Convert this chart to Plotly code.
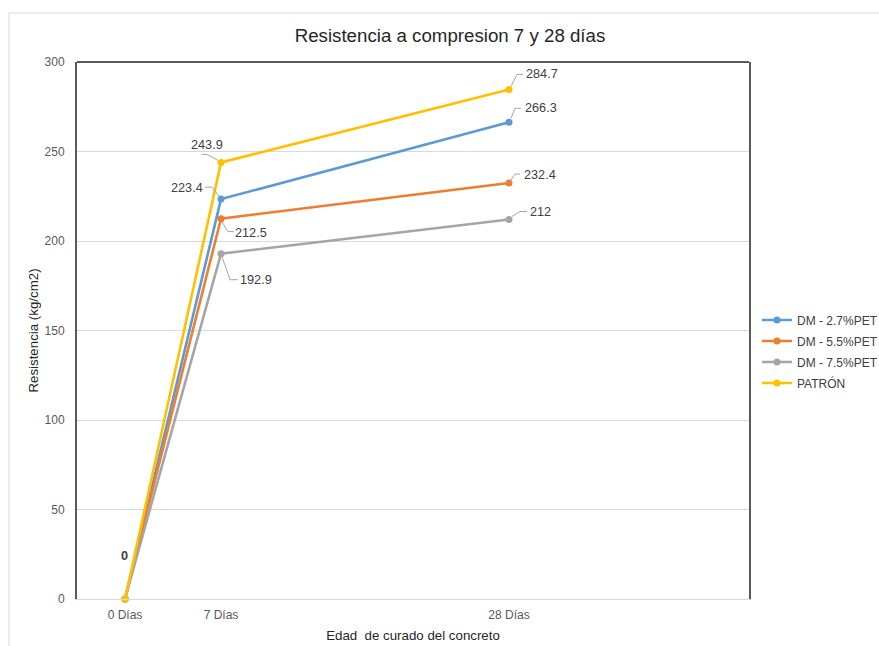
import plotly.graph_objects as go

# Curing age (days) and tick labels
dias = [0, 7, 28]
dias_texto = ["0 Días", "7 Días", "28 Días"]

# Compressive strength (kg/cm2) per mix
dm_27 = [0, 223.4, 266.3]
dm_55 = [0, 212.5, 232.4]
dm_75 = [0, 192.9, 212]
patron = [0, 243.9, 284.7]

nombres = ["DM - 2.7%PET", "DM - 5.5%PET", "DM - 7.5%PET", "PATRÓN"]
series = [dm_27, dm_55, dm_75, patron]
colores = ["#5B9BD5", "#ED7D31", "#A5A5A5", "#FFC000"]

FONT = "Liberation Sans, Arial, sans-serif"
W, H = 879, 646
L, R, T, B = 77, 749, 62, 599  # plot area in pixels

# label placement: (dx, dy) screen offset of the text centre, plus leader path (screen px)
label_style = {
    (0, 1): ((-34, -11), [(-2, -3), (-9, -12), (-16, -12)]),
    (0, 2): ((32, -14), [(2, -4), (6, -14), (12, -14)]),
    (1, 1): ((30, 14), [(1, 3), (7, 13), (13, 13)]),
    (1, 2): ((31, -8), [(2, -3), (6, -9), (11, -9)]),
    (2, 1): ((35, 26), [(1, 3), (9, 26), (17, 26)]),
    (2, 2): ((31, -8), [(3, -3), (11, -8), (18, -8)]),
    (3, 1): ((-14, -17), [(-3, -2), (-14, -8), (-19, -8)]),
    (3, 2): ((33, -15), [(2, -3), (8, -15), (14, -15)]),
}

fig = go.Figure()
for i, (nombre, vals, col) in enumerate(zip(nombres, series, colores)):
    fig.add_trace(go.Scatter(
        x=dias, y=vals, name=nombre, mode="lines+markers",
        line=dict(color=col, width=2.6),
        marker=dict(color=col, size=7),
        cliponaxis=False, legendgroup=nombre,
    ))

annotations = []
shapes = []
for (si, pi), ((dx, dy), path) in label_style.items():
    v = series[si][pi]
    annotations.append(dict(
        x=dias[pi], y=v, xref="x", yref="y", text=f"{v:g}", showarrow=False,
        xshift=dx, yshift=-dy, font=dict(family=FONT, size=12.7, color="#404040"),
    ))
    d = "M " + " L ".join(f"{px},{-py}" for px, py in path)
    shapes.append(dict(
        type="path", xref="x", yref="y", xsizemode="pixel", ysizemode="pixel",
        xanchor=dias[pi], yanchor=v, path=d,
        line=dict(color="#A6A6A6", width=1), layer="above",
    ))

# value at day 0 (shared by all mixes)
annotations.append(dict(
    x=dias[0], y=patron[0], xref="x", yref="y", text=f"<b>{patron[0]:g}</b>",
    showarrow=False, xshift=-1, yshift=43,
    font=dict(family=FONT, size=12.7, color="#404040"),
))

def fx(p):
    return (p - L) / (R - L)

def fy(p):
    return (B - p) / (B - T)

# outer chart frame
shapes.append(dict(type="line", xref="paper", yref="paper", x0=fx(9), x1=fx(879),
                   y0=fy(13), y1=fy(13), line=dict(color="#D9D9D9", width=1)))
shapes.append(dict(type="line", xref="paper", yref="paper", x0=fx(9), x1=fx(9),
                   y0=fy(13), y1=fy(646), line=dict(color="#D9D9D9", width=1)))
# top border of plot area
shapes.append(dict(type="line", xref="paper", yref="paper", x0=0, x1=1,
                   y0=1, y1=1, line=dict(color="#595959", width=2)))

fig.update_layout(
    width=W, height=H, autosize=False,
    margin=dict(l=L, r=W - R, t=T, b=H - B, autoexpand=False),
    paper_bgcolor="white", plot_bgcolor="white",
    font=dict(family=FONT, size=12, color="#595959"),
    title=dict(text="Resistencia a compresion 7 y 28 días", x=450 / W, xref="container",
               xanchor="center", y=1 - 35 / H, yanchor="middle",
               font=dict(family=FONT, size=18.7, color="#262626")),
    xaxis=dict(
        range=[-3.5, 45.5], tickmode="array", tickvals=dias, ticktext=dias_texto,
        showgrid=False, zeroline=False, showline=True, linecolor="#D9D9D9", linewidth=1,
        ticks="", ticklabelstandoff=5,
        title=dict(text="Edad \u00a0de curado del concreto", standoff=9,
                   font=dict(family=FONT, size=13.3, color="#262626")),
    ),
    yaxis=dict(
        range=[0, 300], dtick=50, showgrid=True, gridcolor="#D9D9D9", gridwidth=1,
        zeroline=False, showline=True, mirror=True, linecolor="#595959", linewidth=2,
        ticks="", ticklabelstandoff=8,
        title=dict(text="Resistencia (kg/cm2)", standoff=3,
                   font=dict(family=FONT, size=13.3, color="#262626")),
    ),
    legend=dict(x=fx(757), xanchor="left", y=fy(351.5), yanchor="middle",
                font=dict(family=FONT, size=12, color="#404040"),
                tracegroupgap=2, bgcolor="rgba(0,0,0,0)"),
    annotations=annotations, shapes=shapes,
)

fig.write_html(
    "out.html",
    config={"responsive": False},
    post_script="document.body.style.margin='0';document.body.style.overflow='hidden';",
)
